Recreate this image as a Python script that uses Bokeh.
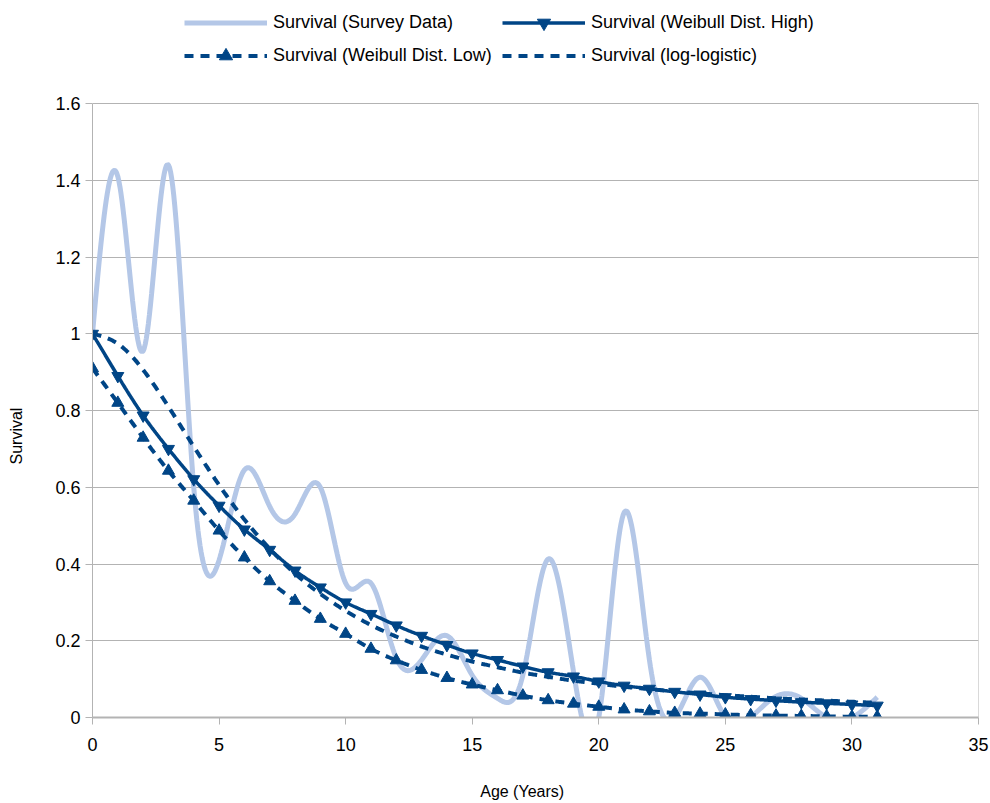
import numpy as np
from bokeh.plotting import figure
from bokeh.models import Legend, LegendItem, Range1d, FixedTicker
from bokeh.embed import file_html
from bokeh.resources import INLINE

# ---------------- data ----------------
age = list(range(32))
survey = [1.0, 1.41, 0.955, 1.44, 0.6, 0.41, 0.645, 0.55, 0.53, 0.60,
          0.35, 0.35, 0.155, 0.15, 0.213, 0.11, 0.05, 0.11, 0.413, 0.12,
          0.0, 0.534, 0.15, 0.0, 0.105, 0.0, 0.0, 0.055, 0.05, 0.0,
          0.0, 0.053]
weibull_high = [1.0, 0.89, 0.787, 0.70, 0.621, 0.552, 0.49, 0.437, 0.383, 0.339,
                0.30, 0.27, 0.24, 0.213, 0.189, 0.167, 0.15, 0.133, 0.118, 0.107,
                0.094, 0.083, 0.075, 0.067, 0.06, 0.053, 0.048, 0.044, 0.04, 0.037,
                0.034, 0.031]
weibull_low = [0.91, 0.82, 0.729, 0.643, 0.565, 0.487, 0.417, 0.355, 0.304, 0.257,
               0.218, 0.179, 0.149, 0.124, 0.103, 0.086, 0.071, 0.057, 0.045, 0.036,
               0.028, 0.021, 0.016, 0.012, 0.010, 0.008, 0.006, 0.005, 0.004, 0.003,
               0.002, 0.002]
log_logistic = [1.0, 0.974, 0.906, 0.81, 0.706, 0.606, 0.516, 0.44, 0.375, 0.322,
                0.278, 0.241, 0.211, 0.185, 0.164, 0.146, 0.131, 0.117, 0.106, 0.096,
                0.088, 0.08, 0.074, 0.068, 0.063, 0.058, 0.054, 0.05, 0.047, 0.044,
                0.041, 0.038]
y_ticks = [0, 0.2, 0.4, 0.6, 0.8, 1, 1.2, 1.4, 1.6]
y_tick_labels = ["0", "0.2", "0.4", "0.6", "0.8", "1", "1.2", "1.4", "1.6"]
x_ticks = [0, 5, 10, 15, 20, 25, 30, 35]

names = ["Survival (Survey Data)", "Survival (Weibull Dist. High)",
         "Survival (Weibull Dist. Low)", "Survival (log-logistic)"]
x_title = "Age (Years)"
y_title = "Survival"


def smooth(xs, ys, steps=24):
    """Natural cubic spline through the points (how the line is drawn)."""
    x = np.asarray(xs, float)
    y = np.asarray(ys, float)
    n = len(x)
    h = np.diff(x)
    A = np.zeros((n, n))
    b = np.zeros(n)
    A[0, 0] = 1
    A[-1, -1] = 1
    for i in range(1, n - 1):
        A[i, i - 1] = h[i - 1]
        A[i, i] = 2 * (h[i - 1] + h[i])
        A[i, i + 1] = h[i]
        b[i] = 6 * ((y[i + 1] - y[i]) / h[i] - (y[i] - y[i - 1]) / h[i - 1])
    M = np.linalg.solve(A, b)
    xo, yo = [], []
    for i in range(n - 1):
        t = np.linspace(0, 1, steps, endpoint=(i == n - 2))
        hi = h[i]
        a = 1 - t
        s = (a * y[i] + t * y[i + 1]
             + ((a ** 3 - a) * M[i] + (t ** 3 - t) * M[i + 1]) * hi * hi / 6)
        xo.extend(x[i] + t * hi)
        yo.extend(np.maximum(s, -0.05))
    return xo, yo


BLUE = "#004586"
LIGHT = "#b4c7e7"
GRID = "#b3b3b3"
FONT = "Liberation Sans"
NBSP = "\u00a0"

# frame spans canvas y 3..717; the value axis 0..1.6 occupies 103..717,
# the area above it holds the legend
TOP_PX, ZERO_PX, MAX_PX = 3, 717, 103
y_top = y_ticks[-1] * (ZERO_PX - TOP_PX) / (ZERO_PX - MAX_PX)

p = figure(width=990, height=803, output_backend="svg", toolbar_location=None,
           x_range=Range1d(x_ticks[0], x_ticks[-1]), y_range=Range1d(0, y_top),
           min_border_left=92, min_border_right=12, min_border_top=TOP_PX,
           min_border_bottom=803 - ZERO_PX)
p.background_fill_color = "white"
p.border_fill_color = "white"
p.outline_line_color = None

# right wall edge of the plot area
p.segment(x0=[x_ticks[-1]], y0=[y_ticks[0]], x1=[x_ticks[-1]], y1=[y_ticks[-1]],
          line_color=GRID, line_width=1)

sx, sy = smooth(age, survey)
r_survey = p.line(sx, sy, line_color=LIGHT, line_width=5)

hx, hy = smooth(age, weibull_high)
r_high = p.line(hx, hy, line_color=BLUE, line_width=3.5)
m_high = p.scatter(age, weibull_high, marker="inverted_triangle", size=12,
                   fill_color=BLUE, line_color=BLUE)

lx, ly = smooth(age, weibull_low)
r_low = p.line(lx, ly, line_color=BLUE, line_width=4, line_dash="9 7")
m_low = p.scatter(age, weibull_low, marker="triangle", size=12,
                  fill_color=BLUE, line_color=BLUE)

gx, gy = smooth(age, log_logistic)
r_ll = p.line(gx, gy, line_color=BLUE, line_width=4, line_dash="9 7")

# axes
p.xaxis.ticker = FixedTicker(ticks=x_ticks)
p.yaxis.ticker = FixedTicker(ticks=y_ticks)
p.yaxis.bounds = (y_ticks[0], y_ticks[-1])
p.yaxis.major_label_overrides = {t: l for t, l in zip(y_ticks, y_tick_labels)}
for ax in (p.xaxis[0], p.yaxis[0]):
    ax.axis_line_color = GRID
    ax.major_tick_line_color = GRID
    ax.major_tick_in = 0
    ax.major_tick_out = 7
    ax.minor_tick_line_color = None
    ax.major_label_text_font = FONT
    ax.major_label_text_font_size = "18px"
    ax.major_label_text_color = "black"
    ax.axis_label_text_font = FONT
    ax.axis_label_text_font_size = "16px"
    ax.axis_label_text_font_style = "normal"
    ax.axis_label_text_color = "black"
p.xaxis.axis_line_width = 2
p.xaxis.major_label_standoff = 13
p.yaxis.major_label_standoff = 5
# trailing no-break spaces only shift the centred titles to the reference spots
p.xaxis.axis_label = x_title + NBSP * 6
p.xaxis.axis_label_standoff = 29
p.yaxis.axis_label = y_title + NBSP * 34
p.yaxis.axis_label_standoff = 27
p.xgrid.visible = False
p.ygrid.grid_line_color = GRID
p.ygrid.grid_line_width = 1

legend = Legend(items=[
    LegendItem(label=names[0], renderers=[r_survey]),
    LegendItem(label=names[1], renderers=[r_high, m_high]),
    LegendItem(label=names[2], renderers=[r_low, m_low]),
    LegendItem(label=names[3], renderers=[r_ll]),
], orientation="horizontal", ncols=2)
legend.location = (92, 645)
legend.padding = 0
legend.margin = 0
legend.spacing = 0
legend.glyph_width = 83
legend.glyph_height = 33
legend.label_height = 33
legend.label_width = 229
legend.label_standoff = 6
legend.label_text_font = FONT
legend.label_text_font_size = "18px"
legend.label_text_color = "black"
legend.border_line_color = None
legend.background_fill_alpha = 0
p.add_layout(legend)

open("out.html", "w").write(file_html(p, INLINE))
